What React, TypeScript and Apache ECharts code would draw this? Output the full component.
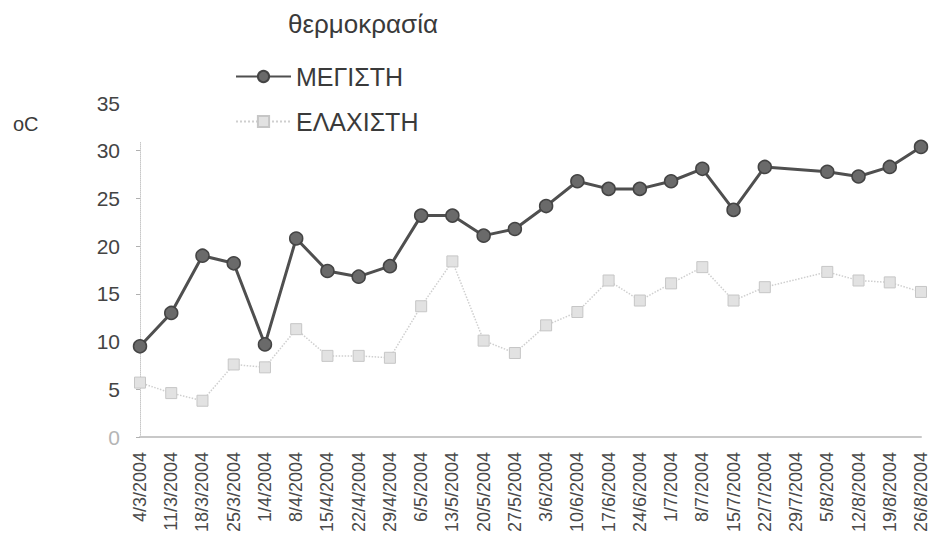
import React, { useEffect, useRef } from "react";
import * as echarts from "echarts";

// Weekly readings, March–August 2004
const dates = [
  "4/3/2004", "11/3/2004", "18/3/2004", "25/3/2004", "1/4/2004", "8/4/2004",
  "15/4/2004", "22/4/2004", "29/4/2004", "6/5/2004", "13/5/2004", "20/5/2004",
  "27/5/2004", "3/6/2004", "10/6/2004", "17/6/2004", "24/6/2004", "1/7/2004",
  "8/7/2004", "15/7/2004", "22/7/2004", "29/7/2004", "5/8/2004", "12/8/2004",
  "19/8/2004", "26/8/2004",
];

const maxTemp: (number | null)[] = [
  9.5, 13, 19, 18.2, 9.7, 20.8, 17.4, 16.8, 17.9, 23.2, 23.2, 21.1,
  21.8, 24.2, 26.8, 26.0, 26.0, 26.8, 28.1, 23.8, 28.3, null, 27.8, 27.3,
  28.3, 30.4,
];

const minTemp: (number | null)[] = [
  5.7, 4.6, 3.8, 7.6, 7.3, 11.3, 8.5, 8.5, 8.3, 13.7, 18.4, 10.1,
  8.8, 11.7, 13.1, 16.4, 14.3, 16.1, 17.8, 14.3, 15.7, null, 17.3, 16.4,
  16.2, 15.2,
];

const yTicks = { min: 0, max: 35, interval: 5 };

const FONT = "'Liberation Sans', Arial, sans-serif";

export default function App() {
  const ref = useRef<HTMLDivElement>(null);

  useEffect(() => {
    if (!ref.current) return;
    const chart = echarts.init(ref.current, null, { renderer: "svg" });
    chart.setOption({
      animation: false,
      backgroundColor: "#ffffff",
      textStyle: { fontFamily: FONT },
      title: {
        text: "θερμοκρασία",
        left: 288,
        top: 11,
        padding: 0,
        textStyle: { fontSize: 26, fontWeight: "normal", color: "#3a3a3a", fontFamily: FONT },
      },
      legend: {
        orient: "vertical",
        left: 130,
        top: 52,
        padding: [12, 40, 8, 105],
        backgroundColor: "#ffffff",
        itemWidth: 55,
        itemHeight: 14,
        itemGap: 20,
        textStyle: { fontSize: 25, color: "#3a3a3a", fontFamily: FONT },
        data: ["ΜΕΓΙΣΤΗ", "ΕΛΑΧΙΣΤΗ"],
      },
      graphic: [
        {
          type: "text",
          left: 13,
          top: 114,
          style: { text: "oC", fontSize: 20, fill: "#3a3a3a", fontFamily: FONT },
        },
      ],
      grid: { left: 140, right: 8, top: 103, bottom: 110, containLabel: false },
      xAxis: {
        type: "category",
        data: dates,
        boundaryGap: false,
        axisLine: { lineStyle: { color: "#c8c8c8", width: 2 } },
        axisTick: { show: false },
        axisLabel: {
          rotate: 90,
          margin: 15,
          interval: 0,
          fontSize: 18,
          color: "#4a4a4a",
          fontFamily: FONT,
        },
        splitLine: { show: false },
      },
      yAxis: {
        type: "value",
        min: yTicks.min,
        max: yTicks.max,
        interval: yTicks.interval,
        axisLine: { show: true, lineStyle: { color: "#c8c8c8", type: "dotted", width: 1 } },
        axisTick: { show: true, length: 4, lineStyle: { color: "#b0b0b0" } },
        axisLabel: {
          margin: 20,
          fontSize: 21,
          fontFamily: FONT,
          color: (v: any) => (Number(v) === 0 ? "#b5b5b5" : "#444444"),
        },
        splitLine: { show: false },
      },
      series: [
        {
          name: "ΜΕΓΙΣΤΗ",
          type: "line",
          data: maxTemp,
          connectNulls: true,
          symbol: "circle",
          symbolSize: 13,
          lineStyle: { color: "#4f4f4f", width: 3 },
          itemStyle: { color: "#6a6a6a", borderColor: "#444444", borderWidth: 1.5 },
          z: 3,
        },
        {
          name: "ΕΛΑΧΙΣΤΗ",
          type: "line",
          data: minTemp,
          connectNulls: true,
          symbol: "rect",
          symbolSize: 11,
          lineStyle: { color: "#cfcfcf", width: 1.5, type: "dotted" },
          itemStyle: { color: "#e2e2e2", borderColor: "#c6c6c6", borderWidth: 1 },
          z: 2,
        },
      ],
    });
    return () => chart.dispose();
  }, []);

  return (
    <div
      ref={ref}
      style={{ position: "absolute", left: 0, top: 0, width: 930, height: 547 }}
    />
  );
}
